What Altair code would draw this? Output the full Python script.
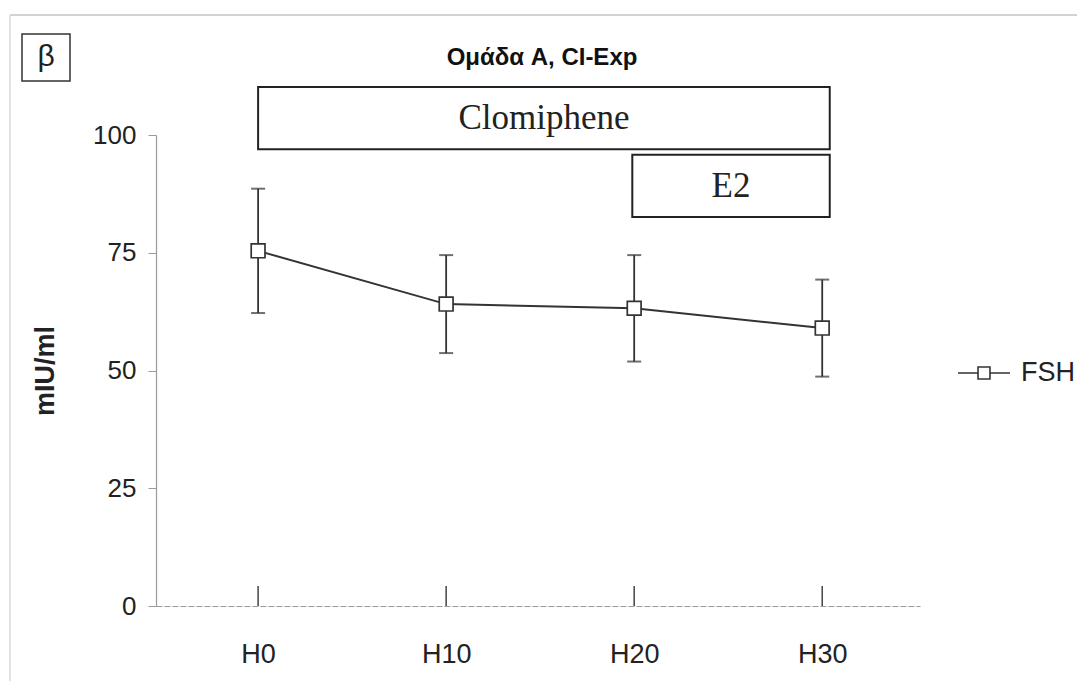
import altair as alt
import pandas as pd

# ---- data ----
hours = [0, 10, 20, 30]
hour_labels = ["H0", "H10", "H20", "H30"]
fsh_mean = [75.4, 64.1, 63.2, 59.0]
fsh_err = [13.2, 10.4, 11.3, 10.3]
series_name = ["FSH", "FSH", "FSH", "FSH"]

y_ticks = [0, 25, 50, 75, 100]

box_labels = ["Clomiphene", "E2"]
box_start = [0.0, 19.9]
box_end = [30.4, 30.4]
box_low = [97.0, 82.6]
box_high = [110.2, 95.8]

chart_title = ["Ομάδα A, CI-Exp"]
panel_tag = ["β"]

df = pd.DataFrame({
    "hour": hours,
    "label": hour_labels,
    "fsh": fsh_mean,
    "lo": [m - e for m, e in zip(fsh_mean, fsh_err)],
    "hi": [m + e for m, e in zip(fsh_mean, fsh_err)],
    "series": series_name,
})
boxes = pd.DataFrame({
    "name": box_labels,
    "start": box_start,
    "end": box_end,
    "low": box_low,
    "high": box_high,
})
boxes["mid_x"] = (boxes["start"] + boxes["end"]) / 2
boxes["mid_y"] = (boxes["low"] + boxes["high"]) / 2

W, H = 764, 471
FONT = "Liberation Sans"
SERIF = "Liberation Serif"
INK = "#222222"

label_map = "{" + ",".join(f"'{h}':'{l}'" for h, l in zip(hours, hour_labels)) + "}"

xscale = alt.Scale(domain=[-5.43, 35.2], nice=False, zero=False)
yscale = alt.Scale(domain=[0, 100], nice=False, zero=True)

x_axis = alt.Axis(
    values=hours, labelExpr=label_map + "[datum.value]", ticks=False, grid=False,
    domainColor="#9a9a9a", domainDash=[6, 2], domainWidth=1.2,
    labelFont=FONT, labelFontSize=27, labelColor=INK, labelPadding=35, title=None,
)
y_axis = alt.Axis(
    values=y_ticks, grid=False, tickSize=8, tickColor="#9a9a9a", domainColor="#9a9a9a",
    domainWidth=1.2, labelFont=FONT, labelFontSize=26, labelColor=INK, labelPadding=12,
    title="mIU/ml", titleFont=FONT, titleFontSize=27, titleFontWeight="bold",
    titleColor=INK, titleX=-111, titleY=H / 2, titleAngle=270, titleAlign="center",
    titleBaseline="middle",
)

base = alt.Chart(df)
X = alt.X("hour:Q", scale=xscale, axis=x_axis)

xticks = base.mark_rule(color="#444", strokeWidth=1.5).encode(
    x=X, y=alt.value(H), y2=alt.value(H - 20)
)
err_rules = base.mark_rule(color="#333", strokeWidth=1.8).encode(
    x=X, y=alt.Y("lo:Q", scale=yscale, axis=y_axis), y2="hi:Q"
)
cap_hi = base.mark_tick(orient="horizontal", size=14, thickness=2, color="#333").encode(
    x=X, y=alt.Y("hi:Q", scale=yscale, axis=y_axis)
)
cap_lo = base.mark_tick(orient="horizontal", size=14, thickness=2, color="#333").encode(
    x=X, y=alt.Y("lo:Q", scale=yscale, axis=y_axis)
)
line = base.mark_line(color="#333", strokeWidth=2).encode(
    x=X, y=alt.Y("fsh:Q", scale=yscale, axis=y_axis)
)
legend_symbol = "M-1,0H-0.23M0.23,0H1M-0.23,-0.23H0.23V0.23H-0.23Z"
points = base.mark_point(
    shape="square", filled=True, fill="white", strokeWidth=1.7, size=190, opacity=1
).encode(
    x=X, y=alt.Y("fsh:Q", scale=yscale, axis=y_axis),
    stroke=alt.Stroke(
        "series:N", scale=alt.Scale(range=["#333333"]),
        legend=alt.Legend(
            title=None, orient="none", legendX=801, legendY=211, padding=0,
            symbolType=legend_symbol, symbolSize=2704, symbolStrokeWidth=1.6,
            symbolFillColor="white", symbolStrokeColor="#333333",
            labelFont=FONT, labelFontSize=27, labelColor=INK, labelOffset=10,
        ),
    ),
)

bx = alt.Chart(boxes)
rects = bx.mark_rect(fill="white", stroke="#222", strokeWidth=2).encode(
    x=alt.X("start:Q", scale=xscale, axis=x_axis), x2="end:Q",
    y=alt.Y("low:Q", scale=yscale, axis=y_axis), y2="high:Q",
)
rect_text = bx.mark_text(font=SERIF, fontSize=35, color=INK, baseline="middle").encode(
    x=alt.X("mid_x:Q", scale=xscale, axis=x_axis),
    y=alt.Y("mid_y:Q", scale=yscale, axis=y_axis),
    text="name:N",
)

# decorative frame, panel tag and chart title
tag = pd.DataFrame({"t": panel_tag})
ttl = pd.DataFrame({"t": chart_title})
frame_top = alt.Chart(tag).mark_rule(color="#c4c4c4", strokeWidth=1.5).encode(
    x=alt.value(-146), x2=alt.value(940), y=alt.value(-120)
)
frame_left = alt.Chart(tag).mark_rule(color="#d0d0d0", strokeWidth=1.2).encode(
    x=alt.value(-146), y=alt.value(-120), y2=alt.value(546)
)
tag_box = alt.Chart(tag).mark_rect(fill="white", stroke="#333", strokeWidth=1.5).encode(
    x=alt.value(-134), x2=alt.value(-86), y=alt.value(-101), y2=alt.value(-54)
)
tag_text = alt.Chart(tag).mark_text(font=FONT, fontSize=30, color=INK, baseline="middle").encode(
    x=alt.value(-110), y=alt.value(-78), text="t:N"
)
title_text = alt.Chart(ttl).mark_text(
    font=FONT, fontSize=24, fontWeight="bold", color="#111", baseline="alphabetic", align="center"
).encode(x=alt.value(W / 2 + 4), y=alt.value(-70), text="t:N")

chart = alt.layer(
    frame_top, frame_left, tag_box, tag_text, title_text,
    rects, rect_text, xticks, err_rules, cap_hi, cap_lo, line, points,
).properties(
    width=W, height=H,
    autosize=alt.AutoSizeParams(type="none"),
    padding={"left": 148, "top": 127, "right": 157, "bottom": 75},
).configure_view(stroke=None).resolve_scale(x="shared", y="shared")

chart.save("out.html", embed_options={"renderer": "svg", "actions": False})
